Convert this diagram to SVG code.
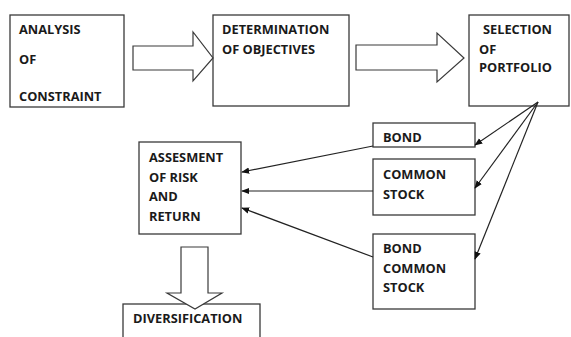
<svg xmlns="http://www.w3.org/2000/svg" width="571" height="337" viewBox="0 0 571 337">
<style>
.box{fill:#fff;stroke:#3a3a3a;stroke-width:1.3}
.blk{fill:#fff;stroke:#3a3a3a;stroke-width:1.2;stroke-linejoin:miter}
.t{font-family:"Open Sans","Liberation Sans",sans-serif;font-weight:bold;font-size:12.8px;fill:#1a1a1a}
.ln{stroke:#222;stroke-width:1.2;fill:none;marker-end:url(#ah)}
</style>
<defs>
<marker id="ah" viewBox="0 0 10 10" refX="9" refY="5" markerWidth="8" markerHeight="8" markerUnits="userSpaceOnUse" orient="auto">
<path d="M0,1 L10,5 L0,9 z" fill="#111"/>
</marker>
</defs>
<rect width="571" height="337" fill="#fff"/>
<g id="analysis">
<rect class="box" x="10" y="15" width="114" height="92"/>
<text class="t" x="19" y="34">ANALYSIS</text>
<text class="t" x="19" y="64">OF</text>
<text class="t" x="19" y="101">CONSTRAINT</text>
</g>
<g id="determination">
<rect class="box" x="213" y="15" width="136" height="91"/>
<text class="t" x="222" y="34">DETERMINATION</text>
<text class="t" x="222" y="54">OF OBJECTIVES</text>
</g>
<g id="selection">
<rect class="box" x="469" y="15" width="100" height="91"/>
<text class="t" x="483" y="34">SELECTION</text>
<text class="t" x="479" y="54">OF</text>
<text class="t" x="479" y="72">PORTFOLIO</text>
</g>
<g id="bond">
<rect class="box" x="373" y="123" width="102" height="24"/>
<text class="t" x="383" y="142">BOND</text>
</g>
<g id="common-stock">
<rect class="box" x="373" y="159" width="102" height="56"/>
<text class="t" x="383" y="179">COMMON</text>
<text class="t" x="383" y="199">STOCK</text>
</g>
<g id="bond-common-stock">
<rect class="box" x="373" y="234" width="102" height="75"/>
<text class="t" x="383" y="253">BOND</text>
<text class="t" x="383" y="273">COMMON</text>
<text class="t" x="383" y="292">STOCK</text>
</g>
<g id="assessment">
<rect class="box" x="139" y="142" width="102" height="92"/>
<text class="t" x="149" y="162">ASSESMENT</text>
<text class="t" x="149" y="182">OF RISK</text>
<text class="t" x="149" y="201">AND</text>
<text class="t" x="149" y="221">RETURN</text>
</g>
<g id="diversification">
<rect class="box" x="123" y="304" width="137" height="40"/>
<text class="t" x="133" y="323">DIVERSIFICATION</text>
</g>
<g id="connectors">
<path class="blk" d="M133,46 H193 V32 L213,58 L193,81 V70 H133 Z"/>
<path class="blk" d="M356,45 H437 V33 L464,58 L437,82 V70 H356 Z"/>
<path class="blk" d="M181,247 H208 V293 H222 L195,309 L167,293 H181 Z"/>
<line class="ln" x1="538" y1="102" x2="475" y2="145"/>
<line class="ln" x1="538" y1="102" x2="475" y2="188"/>
<line class="ln" x1="538" y1="102" x2="475" y2="259"/>
<line class="ln" x1="373" y1="146" x2="242" y2="172"/>
<line class="ln" x1="373" y1="191" x2="242" y2="191"/>
<line class="ln" x1="373" y1="257" x2="242" y2="208"/>
</g>
</svg>
